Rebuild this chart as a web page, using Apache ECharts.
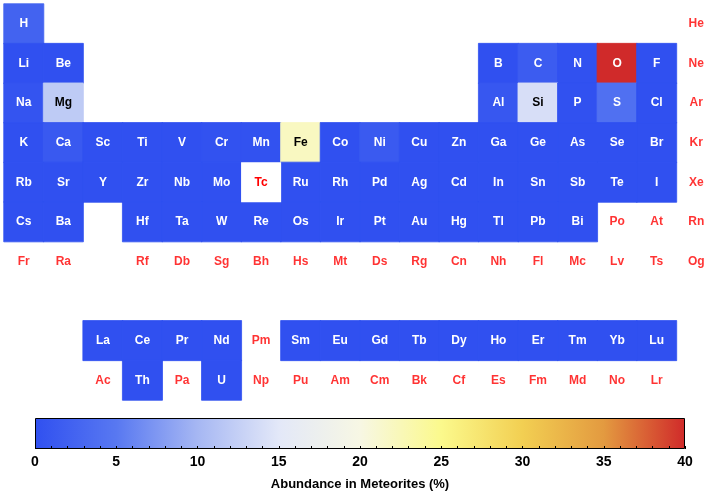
<!DOCTYPE html>
<html>
<head>
<meta charset="utf-8">
<script src="https://cdn.jsdelivr.net/npm/echarts@6/dist/echarts.min.js"></script>
<style>html,body{margin:0;padding:0;background:#fff;}#c{width:720px;height:494px;}</style>
</head>
<body>
<div id="c"></div>
<script>
// Element symbols, grid positions (column, row) and meteorite abundance (%); null = no data
const symbols = ['H','He','Li','Be','B','C','N','O','F','Ne','Na','Mg','Al','Si','P','S','Cl','Ar',
 'K','Ca','Sc','Ti','V','Cr','Mn','Fe','Co','Ni','Cu','Zn','Ga','Ge','As','Se','Br','Kr',
 'Rb','Sr','Y','Zr','Nb','Mo','Tc','Ru','Rh','Pd','Ag','Cd','In','Sn','Sb','Te','I','Xe',
 'Cs','Ba','Hf','Ta','W','Re','Os','Ir','Pt','Au','Hg','Tl','Pb','Bi','Po','At','Rn',
 'Fr','Ra','Rf','Db','Sg','Bh','Hs','Mt','Ds','Rg','Cn','Nh','Fl','Mc','Lv','Ts','Og',
 'La','Ce','Pr','Nd','Pm','Sm','Eu','Gd','Tb','Dy','Ho','Er','Tm','Yb','Lu',
 'Ac','Th','Pa','U','Np','Pu','Am','Cm','Bk','Cf','Es','Fm','Md','No','Lr'];
const columns = [0,17,0,1,12,13,14,15,16,17,0,1,12,13,14,15,16,17,
 0,1,2,3,4,5,6,7,8,9,10,11,12,13,14,15,16,17,
 0,1,2,3,4,5,6,7,8,9,10,11,12,13,14,15,16,17,
 0,1,3,4,5,6,7,8,9,10,11,12,13,14,15,16,17,
 0,1,3,4,5,6,7,8,9,10,11,12,13,14,15,16,17,
 2,3,4,5,6,7,8,9,10,11,12,13,14,15,16,
 2,3,4,5,6,7,8,9,10,11,12,13,14,15,16];
const rows = [0,0,1,1,1,1,1,1,1,1,2,2,2,2,2,2,2,2,
 3,3,3,3,3,3,3,3,3,3,3,3,3,3,3,3,3,3,
 4,4,4,4,4,4,4,4,4,4,4,4,4,4,4,4,4,4,
 5,5,5,5,5,5,5,5,5,5,5,5,5,5,5,5,5,
 6,6,6,6,6,6,6,6,6,6,6,6,6,6,6,6,6,
 8,8,8,8,8,8,8,8,8,8,8,8,8,8,8,
 9,9,9,9,9,9,9,9,9,9,9,9,9,9,9];
const abundance = [2.4,null,0.00017,2.9e-6,0.00016,1.5,0.14,40,0.006,null,0.55,12,0.91,14,0.11,4,0.045,null,
 0.056,1.1,0.00064,0.054,0.0055,0.3,0.22,22,0.06,1.3,0.011,0.031,0.00098,0.0033,0.00018,0.0019,0.00012,null,
 0.00023,0.00078,0.00015,0.00039,0.000028,0.00012,'blank',0.000071,0.000013,0.000056,0.000022,0.000068,0.0000078,0.00017,0.000013,0.00023,0.000043,null,
 0.000019,0.00027,0.000011,1.5e-6,0.000012,3.7e-6,0.000067,0.000047,0.000098,0.000015,0.000025,0.000014,0.00024,0.000011,null,null,null,
 null,null,null,null,null,null,null,null,null,null,null,null,null,null,null,null,null,
 0.000029,0.000075,0.000011,0.000057,null,0.000018,6.8e-6,0.000025,4.6e-6,0.00003,6.8e-6,0.000019,2.9e-6,0.000019,2.8e-6,
 null,3.9e-6,null,8.1e-7,null,null,null,null,null,null,null,null,null,null,null];
// Colour scale 0..40 %, one colour every 5 %
const scaleTicks = [0,5,10,15,20,25,30,35,40];
const scaleColors = ['#3050f0','#5878f1','#a6b7f3','#e3e8f8','#f7f7e4','#fbf98c','#f2cf52','#e39a40','#d02a2a'];

const FONT = 'Liberation Sans, Arial, Helvetica, sans-serif';
const valued = [], blankCells = [], missing = [];
symbols.forEach((s,i)=>{
  const v = abundance[i];
  if (v === null) missing.push({name:s, value:[columns[i], rows[i]]});
  else if (v === 'blank') blankCells.push({name:s, value:[columns[i], rows[i], 0]});
  else valued.push({name:s, value:[columns[i], rows[i], v],
    // edge drawn in the cell's own scale colour to hide anti-aliasing seams
    itemStyle:{borderColor:echarts.color.lerp(v/40, scaleColors), borderWidth:0.8},
    label:{color:(v>10 && v<30)?'#000':'#fff'}});
});

const chart = echarts.init(document.getElementById('c'), null, {renderer:'canvas'});
const colCats = Array.from({length:18},(_,i)=>String(i));
const rowCats = Array.from({length:10},(_,i)=>String(i));
chart.setOption({
  animation:false,
  backgroundColor:'#fff',
  grid:[{left:4, top:4, width:712, height:396},
        {left:35, top:418, width:650, height:31}],
  xAxis:[{gridIndex:0, type:'category', data:colCats, show:false},
         {gridIndex:1, type:'value', min:0, max:40, interval:5, z:10,
          axisLine:{show:false},
          axisTick:{show:true, inside:true, length:3, lineStyle:{color:'#000'}},
          minorTick:{show:true, splitNumber:5, length:3, lineStyle:{color:'#000'}},
          splitLine:{show:false},
          axisLabel:{color:'#000', fontWeight:'bold', fontSize:14, fontFamily:FONT, margin:6},
          name:'Abundance in Meteorites (%)', nameLocation:'middle', nameGap:29,
          nameTextStyle:{color:'#000', fontWeight:'bold', fontSize:13, fontFamily:FONT}}],
  yAxis:[{gridIndex:0, type:'category', data:rowCats, inverse:true, show:false},
         {gridIndex:1, type:'category', data:['bar'], show:false}],
  visualMap:{show:false, type:'continuous', min:0, max:40, seriesIndex:0, dimension:2,
    inRange:{color:scaleColors}},
  series:[
    {type:'heatmap', xAxisIndex:0, yAxisIndex:0, data:valued,
     label:{show:true, formatter:p=>p.name, fontWeight:'bold', fontSize:12, fontFamily:FONT}},
    {type:'heatmap', xAxisIndex:0, yAxisIndex:0, data:blankCells,
     itemStyle:{color:'#ffffff'},
     label:{show:true, formatter:p=>p.name, color:'#ff0000', fontWeight:'bold', fontSize:12, fontFamily:FONT}},
    {type:'scatter', xAxisIndex:0, yAxisIndex:0, data:missing, symbolSize:0,
     label:{show:true, position:'inside', formatter:p=>p.name, color:'#ff0000', fontWeight:'bold', fontSize:12, fontFamily:FONT}},
    {type:'bar', xAxisIndex:1, yAxisIndex:1, data:[40], barWidth:'100%', z:1,
     itemStyle:{borderColor:'#000', borderWidth:1,
       color:new echarts.graphic.LinearGradient(0,0,1,0,
         scaleTicks.map((t,i)=>({offset:t/40, color:scaleColors[i]})))}}
  ]
});
</script>
</body>
</html>
